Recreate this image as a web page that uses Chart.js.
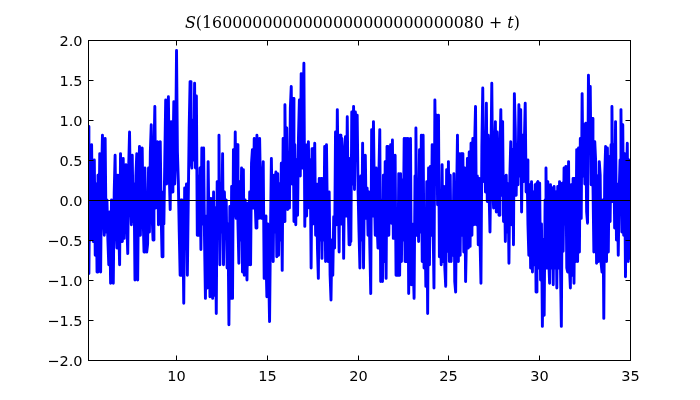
<!DOCTYPE html>
<html>
<head>
<meta charset="utf-8">
<script src="https://cdn.jsdelivr.net/npm/chart.js@4.4.0/dist/chart.umd.min.js"></script>
<style>
  html, body { margin: 0; padding: 0; background: #fff; }
</style>
</head>
<body>
<canvas id="sGraph" width="700" height="400"></canvas>
<script>
// time axis of the samples
var tStart = 5.15;
var tStep = 0.04975;
var xMin = 5.15;
var xMax = 35;

// tick values and labels
var xTicks = [10, 15, 20, 25, 30, 35];
var xTickLabels = ['10', '15', '20', '25', '30', '35'];
var yTicks = [-2.0, -1.5, -1.0, -0.5, 0.0, 0.5, 1.0, 1.5, 2.0];
var yTickLabels = ['\u22122.0', '\u22121.5', '\u22121.0', '\u22120.5', '0.0', '0.5', '1.0', '1.5', '2.0'];

// title pieces (mathtext style: S and t in italics)
var titleNumber = '1600000000000000000000000080';

// S(t) values, one chunk per stretch of t
var s05to08 = [0.92, -0.92, 0.4, -0.5, 0.69, -0.3, -0.52, 0.5, -0.69, 0.2, -0.9, 0.31, -0.5, 0.58, -0.9, 0.3, 0.81, -0.2,
  -0.44, 0.77, -0.4, 0.0, -0.5, -0.81, -0.15, -1.04, 0.0, -0.6, -1.04, 0.1, 0.56, -0.3, -0.6, 0.31, -0.3, -0.81,
  0.58, 0.0, -0.52, 0.52, -0.48, 0.2, 0.44, -0.3, -0.67, 0.4, 0.85, 0.0, -0.31, 0.56, -0.27, 0.2, -1.0, 0.3,
  0.58, -1.0, 0.2, 0.67, -0.44, 0.3, 0.65, -0.2, -0.65, 0.4, -0.2, -0.65];
var s08to12 = [-0.55, 0.4, -0.4, 0.6, 0.94, -0.2, -0.5, 0.6, 1.17, -0.1, 0.4, 0.73, -0.31, 0.3, 0.73, -0.2, -0.71, 0.1,
  -0.3, 0.5, 1.25, 0.2, 0.8, 1.29, 0.3, -0.12, 0.98, 0.1, 0.5, 1.23, 0.2, 0.6, 1.87, 0.6, 0.23, -0.4,
  -0.94, 0.0, -0.94, -0.3, -1.29, 0.15, -0.6, 0.2, -0.94, 0.0, 0.9, 1.48, 0.5, 0.4, 1.0, 0.5, 1.46, 0.4,
  1.3, -0.44, 0.3, -0.44, 0.4, -0.62, 0.65, -0.3, 0.65, -0.5, -1.23, -0.2, -1.1, 0.48, -0.4, -1.21, 0.02, -0.56];
var s12to15 = [-1.23, 0.1, -1.19, -0.1, -1.42, 0.23, -0.3, 0.81, -0.81, 0.2, -0.4, 0.58, -0.81, 0.1, -0.33, 0.0, -0.85, -0.3,
  -1.56, -0.08, -1.23, 0.17, -1.23, 0.63, -0.2, 0.85, -0.23, 0.69, -0.3, -0.79, 0.23, -0.5, 0.4, -0.9, 0.38, -0.94,
  0.0, -0.6, -1.0, -0.04, -0.81, 0.1, -0.81, 0.46, 0.63, -0.1, 0.77, 0.0, -0.35, 0.81, 0.0, -0.23, 0.77, 0.1,
  -0.23, 0.2, 0.48, -0.98, -0.2, -0.7, -1.21, -0.3, -0.9, -1.52, -0.4, 0.52, -0.3, -0.77, 0.31, -0.4, 0.35, -0.71];
var s15to19 = [0.33, -0.69, 0.2, -0.5, 0.46, -0.88, 0.77, -0.27, 1.19, 0.1, 0.9, -0.12, 0.6, -0.1, 1.15, 1.42, 0.2, 1.27,
  -0.27, 0.69, -0.31, 0.5, -0.19, 0.79, 1.25, 0.3, 1.58, 0.4, 1.0, 1.71, -0.33, 0.69, -0.2, 0.4, 0.73, -0.1,
  0.5, -0.85, 0.64, -0.3, 0.3, 0.71, -0.44, 0.2, -0.6, -0.98, 0.27, -0.5, 0.27, -0.73, 0.1, -0.5, 0.67, -0.77,
  0.69, -0.2, -0.77, 0.1, -0.94, -1.25, -0.5, -0.94, -0.21, -0.6, 0.85, -0.31, 1.13, 0.2, -0.65, 0.81, -0.3, 0.77];
var s19to22 = [0.6, -0.73, 0.31, 0.79, -0.2, 1.04, 0.0, -0.56, 0.52, -0.52, 1.1, 0.2, 1.17, 0.13, 1.1, 0.5, 1.06, 0.1,
  -0.4, -0.85, 0.3, -0.5, 0.71, -0.85, 0.2, 0.56, -0.23, 0.15, -0.44, 0.1, -0.6, -1.17, 0.88, -0.2, 0.98, 0.1,
  -0.44, 0.4, -0.3, -0.6, 0.3, 0.88, -1.02, 0.0, -1.02, 0.31, -0.77, 0.48, -0.98, 0.67, -0.2, -0.44, 0.3, 0.69,
  -0.29, 0.75, -0.48, 0.2, 0.56, -0.94, -0.2, -0.94, 0.33, -0.94, 0.33, -0.77, 0.25, -0.5, 0.77, -0.77, 0.77, -0.77];
var s22to26 = [0.77, -1.17, 0.2, 0.77, -1.06, -0.3, -0.81, -1.23, 0.3, 0.9, -0.44, 0.23, -0.52, 0.63, -0.4, 0.81, -0.77, 0.81,
  -0.85, -0.2, -1.08, 0.23, -1.42, 0.4, -0.81, 0.42, -0.44, 0.69, -0.3, -1.1, 1.25, 0.3, 1.06, -0.06, 1.06, -0.71,
  0.06, -0.81, 0.44, -0.77, 0.17, -0.85, -1.08, 0.38, -0.64, 0.48, -0.77, 0.31, -0.77, -0.02, -0.69, 0.33, -1.02, -1.15,
  0.0, 0.81, -0.77, 0.58, -0.69, 0.58, -0.44, 0.58, -0.65, 0.4, -1.02, -0.44, 0.52, -0.6, 0.6, -0.58, 0.71, -0.44];
var s26to30 = [0.77, -0.31, 0.69, 1.17, -0.31, 0.3, -0.56, 0.27, -0.5, -1.04, 0.67, 1.4, 0.23, 0.8, 0.1, 1.21, -0.02, 0.81,
  0.1, -0.4, 0.5, 1.46, 0.2, -0.1, 0.6, 0.98, -0.15, 0.85, 0.1, -0.19, 0.6, 1.13, 0.06, 0.98, -0.27, 0.3,
  -0.52, 0.31, -0.4, 0.2, -0.79, 0.3, 0.73, -0.31, 0.63, -0.56, 1.33, 0.9, 0.06, 0.7, 0.19, 1.19, 0.3, 1.13,
  -0.15, 0.81, 0.23, 0.7, 1.21, 0.1, 0.5, -0.3, -0.69, 0.19, -0.85, 0.23, -0.9, 0.1, -0.81, 0.19, -1.15, 0.21];
var s30to33 = [0.23, -0.85, 0.21, -1.0, -0.3, -1.58, -0.5, -1.44, 0.0, 0.4, -0.85, 0.23, -0.73, -1.04, 0.19, -0.85, 0.15, -1.06,
  0.17, -0.85, 0.1, -1.1, 0.17, -0.85, 0.23, -0.81, -1.58, 0.21, -0.64, 0.4, -0.3, 0.42, -0.85, -0.9, 0.48, -0.85,
  -1.1, 0.19, -0.94, 0.27, -1.04, 0.27, -0.77, 0.63, -0.77, 0.65, -0.65, 0.77, -0.23, 1.33, 0.3, 0.94, 0.2, 0.96,
  -0.15, -0.29, 1.56, 0.6, 1.42, 0.19, 1.02, 0.2, -0.65, 0.73, 0.48, -0.79, 0.3, -0.77, 0.48];
var s33to35 = [0.31, -0.79, -0.9, 0.0, -1.48, 0.3, 0.67, -0.77, 0.65, -0.65, 0.54, -0.27, 0.69, 1.17, -0.02, 0.69, -0.35, 0.98,
  -0.5, 0.2, -0.69, 0.1, 0.5, 1.13, -0.4, 0.94, -0.44, 0.58, -0.96, 0.2, 0.71, -0.77, 0.5, -0.73];

var sValues = [].concat(s05to08, s08to12, s12to15, s15to19, s19to22, s22to26, s26to30, s30to33, s33to35);
var sPoints = sValues.map(function(v, i) {
    return { x: tStart + i * tStep, y: v };
});

var tickFont = '14.5px "DejaVu Sans"';

// matplotlib classic look: box, inward ticks on all four sides, zero line, title
var classicAxes = {
    id: 'classicAxes',
    afterDatasetsDraw: function(chart) {
        var ctx = chart.ctx;
        var area = chart.chartArea;
        var xs = chart.scales.x;
        var ys = chart.scales.y;
        ctx.save();
        ctx.strokeStyle = '#000';
        ctx.lineWidth = 1;

        // horizontal line at zero
        var y0 = Math.round(ys.getPixelForValue(0)) + 0.5;
        ctx.beginPath();
        ctx.moveTo(area.left, y0);
        ctx.lineTo(area.right, y0);
        ctx.stroke();

        // frame
        var l = Math.round(area.left) + 0.5, r = Math.round(area.right) + 0.5;
        var t = Math.round(area.top) + 0.5, b = Math.round(area.bottom) + 0.5;
        ctx.strokeRect(l, t, r - l, b - t);

        // ticks and labels
        ctx.fillStyle = '#000';
        ctx.font = tickFont;
        ctx.textAlign = 'center';
        ctx.textBaseline = 'alphabetic';
        xTicks.forEach(function(v, i) {
            var px = Math.round(xs.getPixelForValue(v)) + 0.5;
            ctx.beginPath();
            ctx.moveTo(px, b); ctx.lineTo(px, b - 5);
            ctx.moveTo(px, t); ctx.lineTo(px, t + 5);
            ctx.stroke();
            ctx.fillText(xTickLabels[i], px, b + 20);
        });
        ctx.textAlign = 'right';
        yTicks.forEach(function(v, i) {
            var py = Math.round(ys.getPixelForValue(v)) + 0.5;
            ctx.beginPath();
            ctx.moveTo(l, py); ctx.lineTo(l + 5, py);
            ctx.moveTo(r, py); ctx.lineTo(r - 5, py);
            ctx.stroke();
            ctx.fillText(yTickLabels[i], l - 6, py + 5);
        });

        // title, fitted to the width it has in the reference
        var parts = [
            { text: 'S', italic: true },
            { text: '(' + titleNumber + ' + ', italic: false },
            { text: 't', italic: true },
            { text: ')', italic: false }
        ];
        var base = 20, total = 0;
        parts.forEach(function(p) {
            ctx.font = (p.italic ? 'italic ' : '') + base + 'px "DejaVu Serif"';
            total += ctx.measureText(p.text).width;
        });
        var size = base * 335 / total;
        var x = 352.5 - 335 / 2;
        ctx.textAlign = 'left';
        parts.forEach(function(p) {
            ctx.font = (p.italic ? 'italic ' : '') + size + 'px "DejaVu Serif"';
            ctx.fillText(p.text, x, 28);
            x += ctx.measureText(p.text).width;
        });
        ctx.restore();
    }
};

var sChart = new Chart(document.getElementById('sGraph').getContext('2d'), {
    type: 'line',
    data: {
        datasets: [{
            data: sPoints,
            borderColor: '#0000ff',
            borderWidth: 2.9,
            borderJoinStyle: 'round',
            borderCapStyle: 'round',
            pointRadius: 0,
            tension: 0,
            fill: false,
            clip: 0
        }]
    },
    options: {
        responsive: false,
        animation: false,
        devicePixelRatio: 1,
        layout: { padding: { left: 88, right: 70, top: 40, bottom: 40 } },
        plugins: {
            legend: { display: false },
            title: { display: false },
            tooltip: { enabled: false }
        },
        scales: {
            x: { type: 'linear', min: xMin, max: xMax, display: false },
            y: { type: 'linear', min: -2, max: 2, display: false }
        }
    },
    plugins: [classicAxes]
});
</script>
</body>
</html>
